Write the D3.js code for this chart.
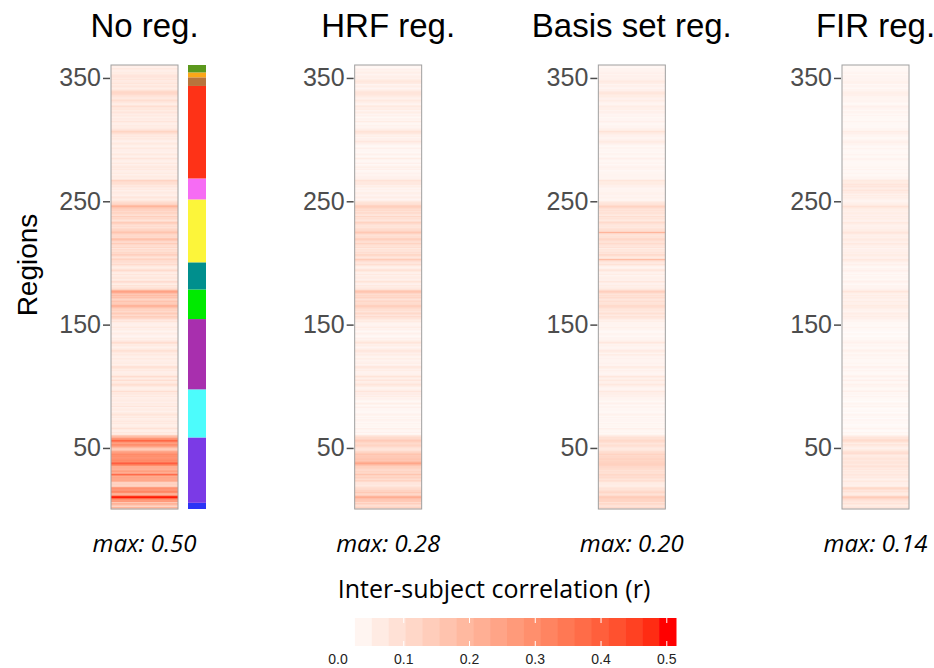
<!DOCTYPE html>
<html>
<head>
<meta charset="utf-8">
<script src="https://cdn.jsdelivr.net/npm/d3@7"></script>
<style>
  body { margin: 0; background: #fff; }
  svg { display: block; }
</style>
</head>
<body>
<div id="grafico"></div>
<script>
// panel titles and the max labels under each column
const panelTitles = ["No reg.", "HRF reg.", "Basis set reg.", "FIR reg."];
const panelMax = ["max: 0.50", "max: 0.28", "max: 0.20", "max: 0.14"];
const regionTicks = [50, 150, 250, 350];
const legendTicks = [0.0, 0.1, 0.2, 0.3, 0.4, 0.5];
const legendMax = 0.514;

// network blocks next to the first column (from region 1 upwards)
const networkCounts = [5, 53, 39, 57, 24, 22, 51, 17, 75, 7, 4, 6];
const networkColors = ["#2b33f6", "#7b3ae6", "#4cfcfc", "#a82fae", "#00ea00", "#008f8d",
                       "#fcf53a", "#f66cf4", "#fe3217", "#b8743c", "#fba718", "#5b981d"];

// inter-subject correlation per region (region 1 first)
const noReg = [
  .14,.2,.12,.18,.22,.15,.28,.3,.33,.5,
  .48,.3,.18,.3,.32,.3,.31,.28,.14,.12,
  .15,.1,.2,.24,.26,.25,.22,.3,.42,.2,
  .26,.24,.22,.25,.2,.3,.36,.46,.3,.31,
  .3,.32,.3,.29,.31,.3,.28,.18,.14,.16,
  .24,.28,.3,.26,.32,.42,.3,.28,.22,.18,
  .06,.05,.07,.04,.05,.08,.06,.05,.04,.06,
  .05,.07,.05,.04,.06,.05,.08,.06,.05,.04,
  .06,.05,.04,.07,.05,.06,.04,.05,.06,.05,
  .04,.06,.05,.07,.05,.09,.06,.05,.04,.06,
  .08,.1,.06,.05,.09,.07,.05,.1,.06,.05,
  .05,.04,.06,.05,.08,.09,.05,.04,.06,.05,
  .04,.05,.06,.04,.05,.06,.05,.07,.09,.06,
  .05,.04,.06,.05,.08,.1,.06,.04,.05,.04,
  .03,.04,.05,.04,.03,.05,.04,.06,.05,.04,
  .04,.05,.08,.06,.1,.12,.14,.1,.15,.12,
  .1,.14,.12,.16,.2,.22,.15,.13,.16,.14,
  .12,.17,.15,.18,.16,.22,.25,.2,.12,.08,
  .06,.08,.05,.07,.1,.06,.05,.08,.06,.05,
  .07,.05,.06,.1,.08,.06,.05,.07,.1,.08,
  .1,.09,.12,.1,.08,.11,.13,.1,.12,.08,
  .1,.07,.12,.09,.1,.14,.1,.12,.17,.15,
  .1,.12,.1,.13,.16,.15,.12,.1,.08,.1,
  .09,.12,.14,.1,.08,.11,.1,.13,.09,.11,
  .12,.1,.13,.14,.15,.2,.18,.12,.1,.08,
  .06,.05,.07,.06,.04,.05,.06,.05,.04,.06,
  .05,.07,.06,.08,.1,.09,.12,.07,.05,.06,
  .05,.04,.06,.05,.04,.06,.05,.07,.05,.04,
  .06,.05,.04,.05,.07,.05,.04,.06,.05,.04,
  .05,.04,.06,.05,.04,.05,.06,.05,.04,.05,
  .06,.05,.07,.06,.08,.1,.12,.09,.06,.05,
  .05,.06,.04,.05,.07,.05,.06,.04,.05,.06,
  .05,.07,.06,.05,.08,.06,.09,.07,.05,.06,
  .07,.09,.08,.06,.07,.08,.1,.12,.11,.08,
  .06,.05,.07,.06,.05,.08,.06,.05,.07,.06,
  .08,.07,.06,.05,.06,.04,.05,.06,.04,.05
];

const hrfReg = [
  .08,.12,.1,.09,.14,.1,.15,.17,.16,.22,
  .2,.14,.1,.15,.12,.13,.1,.09,.07,.06,
  .08,.06,.1,.12,.1,.13,.11,.12,.18,.1,
  .12,.1,.11,.14,.12,.16,.2,.28,.18,.15,
  .16,.17,.15,.14,.16,.15,.12,.08,.07,.08,
  .1,.12,.11,.1,.13,.15,.12,.1,.11,.08,
  .03,.02,.04,.02,.03,.04,.02,.03,.02,.03,
  .02,.03,.04,.02,.03,.02,.04,.03,.02,.02,
  .03,.02,.04,.03,.02,.05,.03,.02,.03,.04,
  .03,.05,.04,.06,.04,.07,.05,.04,.03,.05,
  .06,.08,.05,.04,.07,.06,.04,.08,.05,.04,
  .04,.03,.05,.04,.06,.07,.04,.03,.05,.04,
  .03,.04,.05,.03,.04,.05,.04,.06,.07,.05,
  .04,.03,.05,.04,.06,.08,.05,.03,.04,.03,
  .02,.03,.04,.03,.02,.04,.03,.05,.04,.03,
  .03,.04,.06,.05,.07,.08,.1,.07,.11,.09,
  .07,.1,.09,.11,.13,.14,.1,.09,.11,.1,
  .08,.12,.1,.11,.1,.14,.16,.13,.08,.06,
  .05,.06,.04,.05,.08,.05,.04,.06,.05,.04,
  .06,.04,.05,.08,.07,.05,.04,.06,.09,.07,
  .08,.1,.14,.09,.07,.1,.11,.08,.1,.07,
  .08,.06,.1,.08,.09,.12,.09,.1,.13,.12,
  .09,.1,.08,.12,.15,.13,.1,.09,.07,.08,
  .08,.1,.12,.09,.07,.09,.08,.11,.07,.09,
  .1,.08,.11,.1,.12,.13,.12,.09,.08,.06,
  .04,.03,.05,.04,.03,.04,.05,.03,.03,.04,
  .03,.05,.04,.06,.07,.06,.08,.05,.04,.04,
  .03,.03,.04,.03,.02,.04,.03,.05,.03,.02,
  .04,.03,.02,.03,.05,.03,.02,.04,.03,.02,
  .03,.02,.04,.03,.02,.03,.04,.05,.07,.04,
  .04,.03,.05,.04,.06,.07,.08,.06,.04,.03,
  .03,.04,.02,.03,.05,.03,.04,.02,.03,.04,
  .03,.05,.04,.03,.06,.04,.06,.05,.03,.04,
  .05,.06,.05,.04,.05,.06,.07,.08,.07,.05,
  .04,.03,.05,.04,.03,.06,.07,.06,.05,.04,
  .05,.04,.03,.04,.05,.03,.04,.03,.02,.03
];

const basisReg = [
  .07,.1,.08,.09,.11,.08,.12,.13,.12,.14,
  .13,.1,.08,.11,.1,.09,.08,.07,.05,.05,
  .06,.05,.08,.09,.08,.1,.09,.1,.12,.08,
  .09,.08,.1,.11,.1,.12,.13,.14,.12,.11,
  .12,.13,.11,.1,.12,.11,.1,.07,.06,.06,
  .08,.09,.08,.07,.1,.11,.09,.08,.09,.06,
  .03,.02,.03,.02,.03,.04,.02,.03,.02,.03,
  .02,.03,.03,.02,.03,.02,.04,.03,.02,.02,
  .03,.02,.03,.03,.02,.04,.03,.02,.03,.03,
  .03,.04,.04,.05,.04,.06,.04,.03,.03,.04,
  .05,.07,.04,.04,.06,.05,.04,.07,.04,.03,
  .03,.03,.04,.03,.05,.06,.03,.03,.04,.03,
  .03,.03,.04,.03,.04,.05,.03,.05,.06,.04,
  .03,.03,.04,.03,.05,.07,.04,.03,.03,.03,
  .02,.03,.03,.02,.02,.03,.03,.04,.03,.03,
  .03,.03,.05,.04,.06,.07,.08,.06,.09,.07,
  .06,.08,.07,.09,.1,.11,.08,.07,.09,.08,
  .07,.1,.08,.09,.08,.11,.13,.1,.07,.05,
  .04,.05,.04,.04,.07,.04,.04,.05,.04,.03,
  .05,.04,.04,.07,.06,.04,.03,.05,.08,.06,
  .07,.09,.18,.08,.06,.09,.1,.07,.09,.06,
  .07,.05,.09,.07,.08,.1,.08,.09,.11,.1,
  .08,.09,.07,.1,.2,.11,.09,.08,.06,.07,
  .07,.08,.1,.08,.06,.08,.07,.09,.06,.08,
  .08,.07,.09,.08,.1,.12,.1,.08,.07,.05,
  .03,.03,.04,.03,.03,.04,.04,.03,.03,.03,
  .03,.04,.04,.05,.06,.05,.07,.04,.03,.03,
  .03,.03,.03,.03,.02,.03,.03,.04,.03,.02,
  .03,.03,.02,.03,.04,.03,.02,.03,.03,.02,
  .03,.02,.03,.03,.02,.03,.04,.05,.06,.04,
  .03,.03,.04,.04,.05,.06,.08,.05,.04,.03,
  .03,.03,.02,.03,.04,.03,.03,.02,.03,.03,
  .03,.04,.04,.03,.05,.04,.05,.04,.03,.03,
  .04,.05,.04,.04,.05,.05,.06,.08,.06,.04,
  .04,.03,.04,.04,.03,.05,.06,.05,.04,.04,
  .04,.04,.03,.04,.04,.03,.03,.03,.02,.03
];

const firReg = [
  .05,.07,.06,.05,.08,.06,.07,.09,.1,.14,
  .12,.07,.05,.06,.08,.07,.11,.1,.05,.04,
  .05,.04,.06,.05,.04,.06,.05,.06,.07,.05,
  .06,.05,.07,.06,.08,.07,.06,.08,.07,.06,
  .07,.08,.06,.05,.07,.1,.09,.06,.05,.04,
  .05,.06,.07,.05,.08,.1,.09,.07,.08,.05,
  .02,.02,.03,.01,.02,.03,.02,.02,.01,.02,
  .02,.02,.03,.01,.02,.02,.03,.02,.01,.02,
  .02,.01,.02,.03,.02,.03,.02,.01,.02,.02,
  .02,.03,.02,.03,.02,.04,.03,.02,.02,.03,
  .03,.04,.02,.02,.04,.03,.02,.04,.03,.02,
  .02,.02,.03,.02,.03,.04,.02,.02,.03,.02,
  .02,.02,.03,.02,.03,.03,.02,.03,.04,.03,
  .02,.02,.03,.02,.03,.04,.03,.02,.02,.02,
  .01,.02,.02,.01,.02,.02,.02,.03,.02,.02,
  .02,.02,.03,.03,.04,.04,.05,.04,.05,.04,
  .03,.04,.04,.05,.05,.06,.04,.04,.05,.04,
  .04,.05,.04,.05,.04,.05,.07,.05,.04,.03,
  .03,.03,.02,.03,.04,.03,.02,.03,.03,.02,
  .03,.02,.03,.04,.03,.03,.02,.03,.04,.03,
  .04,.05,.06,.04,.04,.05,.05,.04,.05,.04,
  .04,.03,.05,.04,.05,.06,.04,.05,.06,.05,
  .04,.05,.04,.06,.07,.06,.05,.04,.04,.04,
  .04,.05,.06,.04,.04,.05,.04,.05,.04,.05,
  .05,.04,.05,.05,.06,.08,.06,.05,.04,.03,
  .03,.04,.05,.04,.05,.04,.06,.05,.07,.06,
  .05,.07,.06,.07,.06,.05,.06,.04,.03,.03,
  .02,.02,.03,.02,.02,.03,.02,.03,.02,.02,
  .02,.02,.02,.03,.03,.02,.02,.03,.02,.02,
  .02,.02,.03,.02,.02,.03,.03,.04,.04,.03,
  .02,.02,.03,.03,.04,.04,.05,.03,.03,.02,
  .02,.02,.02,.02,.03,.02,.02,.02,.02,.03,
  .02,.03,.03,.02,.03,.03,.04,.03,.02,.02,
  .03,.03,.03,.03,.03,.04,.04,.05,.04,.03,
  .03,.02,.03,.03,.02,.04,.04,.03,.03,.03,
  .03,.03,.02,.03,.03,.02,.02,.02,.02,.02
];

const panelData = [noReg, hrfReg, basisReg, firReg];

// page size and column geometry
const width = 934;
const height = 668;
const colWidth = 67;
const colTop = 65;
const colBottom = 509;

const svg = d3.select("#grafico")
    .append("svg")
    .attr("width", width)
    .attr("height", height);

// one x position per panel
const panelX = d3.scaleLinear().domain([0, 3]).range([111, 842]);

// regions go bottom (1) to top (360)
const y = d3.scaleLinear().domain([0.5, 360.5]).range([colBottom, colTop]);

// white -> red, shared by all columns
const color = d3.scaleLinear()
    .domain([0, legendMax])
    .range(["#ffffff", "#ff0000"])
    .interpolate(d3.interpolateLab)
    .clamp(true);

panelData.forEach((values, p) => {
    const x0 = panelX(p);
    const g = svg.append("g").attr("transform", `translate(${x0},0)`);

    // column of tiles
    g.append("rect")
        .attr("x", 0).attr("y", colTop)
        .attr("width", colWidth).attr("height", colBottom - colTop)
        .attr("fill", "#fff");

    g.selectAll(".tile")
        .data(values)
        .join("rect")
        .attr("class", "tile")
        .attr("x", 0)
        .attr("y", (d, i) => y(i + 1.5))
        .attr("width", colWidth)
        .attr("height", (d, i) => y(i + 0.5) - y(i + 1.5) + 0.35)
        .attr("fill", d => color(d));

    // panel border
    g.append("rect")
        .attr("x", 0).attr("y", colTop)
        .attr("width", colWidth).attr("height", colBottom - colTop)
        .attr("fill", "none")
        .attr("stroke", "#a0a0a0")
        .attr("stroke-width", 1);

    // y axis
    const axis = g.append("g")
        .attr("transform", "translate(-1,0)")
        .call(d3.axisLeft(y).tickValues(regionTicks).tickSize(7).tickPadding(2));
    axis.select(".domain").remove();
    axis.selectAll(".tick line").attr("stroke", "#4d4d4d").attr("stroke-width", 1.5);
    axis.selectAll(".tick text")
        .attr("fill", "#4d4d4d")
        .style("font-family", "'Liberation Sans', Arial, sans-serif")
        .style("font-size", "25px");

    // title
    svg.append("text")
        .attr("x", x0 + colWidth / 2)
        .attr("y", 37)
        .attr("text-anchor", "middle")
        .style("font-family", "'Liberation Sans', Arial, sans-serif")
        .style("font-size", "33px")
        .attr("fill", "#000")
        .text(panelTitles[p]);

    // max label
    svg.append("text")
        .attr("x", x0 + colWidth / 2)
        .attr("y", 552)
        .attr("text-anchor", "middle")
        .style("font-family", "'Open Sans', sans-serif")
        .style("font-style", "italic")
        .style("font-size", "24px")
        .attr("fill", "#000")
        .text(panelMax[p]);
});

// network strip next to the first column
let start = 0;
const netBlocks = networkCounts.map((n, i) => {
    const b = { from: start + 0.5, to: start + n + 0.5, color: networkColors[i] };
    start += n;
    return b;
});

svg.append("g")
    .selectAll("rect")
    .data(netBlocks)
    .join("rect")
    .attr("x", 188)
    .attr("y", d => y(d.to))
    .attr("width", 18)
    .attr("height", d => y(d.from) - y(d.to))
    .attr("fill", d => d.color);

// axis title
svg.append("text")
    .attr("transform", "translate(37,265) rotate(-90)")
    .attr("text-anchor", "middle")
    .style("font-family", "'Liberation Sans', Arial, sans-serif")
    .style("font-size", "28px")
    .attr("fill", "#000")
    .text("Regions");

// colour bar legend
const legX0 = 338;
const legX1 = 676;
const legY = 618;
const legH = 28;
const nbin = 20;
const legScale = d3.scaleLinear().domain([0, legendMax]).range([legX0, legX1]);
const bins = d3.range(nbin).map(i => i * legendMax / (nbin - 1));
const binW = (legX1 - legX0) / nbin;

svg.append("text")
    .attr("x", 494)
    .attr("y", 598)
    .attr("text-anchor", "middle")
    .style("font-family", "'Open Sans', sans-serif")
    .style("font-size", "25px")
    .attr("fill", "#000")
    .text("Inter-subject correlation (r)");

svg.append("g")
    .selectAll("rect")
    .data(bins)
    .join("rect")
    .attr("x", (d, i) => legX0 + i * binW)
    .attr("y", legY)
    .attr("width", binW + 0.5)
    .attr("height", legH)
    .attr("fill", d => color(d));

const legTicks = svg.append("g");
legendTicks.forEach(t => {
    const tx = legScale(t);
    legTicks.append("line")
        .attr("x1", tx).attr("x2", tx)
        .attr("y1", legY).attr("y2", legY + 5)
        .attr("stroke", "#fff").attr("stroke-width", 1);
    legTicks.append("line")
        .attr("x1", tx).attr("x2", tx)
        .attr("y1", legY + legH - 5).attr("y2", legY + legH)
        .attr("stroke", "#fff").attr("stroke-width", 1);
    legTicks.append("text")
        .attr("x", tx)
        .attr("y", 664)
        .attr("text-anchor", "middle")
        .style("font-family", "'Liberation Sans', Arial, sans-serif")
        .style("font-size", "14px")
        .attr("fill", "#222")
        .text(t.toFixed(1));
});
</script>
</body>
</html>
